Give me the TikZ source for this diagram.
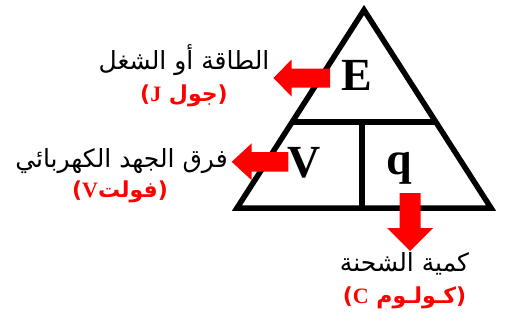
\documentclass[tikz,border=0pt]{standalone}
\usepackage{fontspec}
\TeXXeTstate=1
\newfontfamily\arabicfont[Script=Arabic]{DejaVu Sans}
\newfontfamily\plainsans{DejaVu Sans}
\newfontfamily\latinserif{Liberation Serif}
\usetikzlibrary{calc}
\definecolor{arrowred}{RGB}{255,0,0}
\tikzset{
  edge/.style={line width=5.5pt, line join=miter, line cap=rect},
  divider/.style={line width=6pt},
  letter/.style={font=\latinserif\bfseries\fontsize{46}{46}\selectfont, anchor=base, inner sep=0pt},
  blacklabel/.style={font=\arabicfont\fontsize{25}{28}\selectfont, inner sep=0pt, text=black, anchor=base},
  redlabel/.style={font=\plainsans\bfseries\fontsize{22}{24}\selectfont, inner sep=0pt, text=arrowred, anchor=base},
  redarrow/.style={fill=arrowred, draw=none}
}
\newcommand{\rlat}[1]{{\latinserif\bfseries\fontsize{22}{24}\selectfont #1}}
\newcommand{\rarab}[1]{{\arabicfont\bfseries\beginR #1\endR}}
\begin{document}
\begin{tikzpicture}[x=1pt,y=-1pt]
\useasboundingbox (0,0) rectangle (505,324);
\fill[white] (0,0) rectangle (505,324);
% triangle
\coordinate (apex) at (364,10);
\coordinate (bl) at (237,208);
\coordinate (br) at (491,208);
\draw[edge] (apex) -- (bl) -- (br) -- cycle;
\coordinate (hl) at ($(apex)!0.564!(bl)$);
\coordinate (hr) at ($(apex)!0.564!(br)$);
\draw[divider] (hl) -- (hr);
\coordinate (vt) at (362,121.7);
\coordinate (vb) at (362,208);
\draw[divider] (vt) -- (vb);
% letters
\node[letter] (E) at (357,90) {E};
\node[letter] (V) at (304,177) {V};
\node[letter] (q) at (399,174) {q};
% red arrows
\fill[redarrow] (330,68.5) -- (291.7,68.5) -- (291.7,59.5) -- (273.3,78) -- (291.7,96.5) -- (291.7,87.5) -- (330,87.5) -- cycle;
\fill[redarrow] (288.3,152) -- (251.7,152) -- (251.7,143.3) -- (231.7,161.8) -- (251.7,180.3) -- (251.7,171.6) -- (288.3,171.6) -- cycle;
\fill[redarrow] (399.5,193) -- (399.5,228) -- (387,228) -- (410,251) -- (433,228) -- (420.5,228) -- (420.5,193) -- cycle;
% labels
\node[blacklabel] (energy) at (184,69) {\beginR الطاقة أو الشغل\endR};
\node[redlabel] (joule) at (184,101) {(\rlat{J} \rarab{جول})};
\node[blacklabel] (pd) at (121.5,167) {\beginR فرق الجهد الكهربائي\endR};
\node[redlabel] (volt) at (120,197) {(\rlat{V}\rarab{فولت})};
\node[blacklabel] (charge) at (404.5,271.5) {\beginR كمية الشحنة\endR};
\node[redlabel] (coulomb) at (404.5,303) {(\rlat{C} \rarab{كـولـوم})};
\end{tikzpicture}
\end{document}
